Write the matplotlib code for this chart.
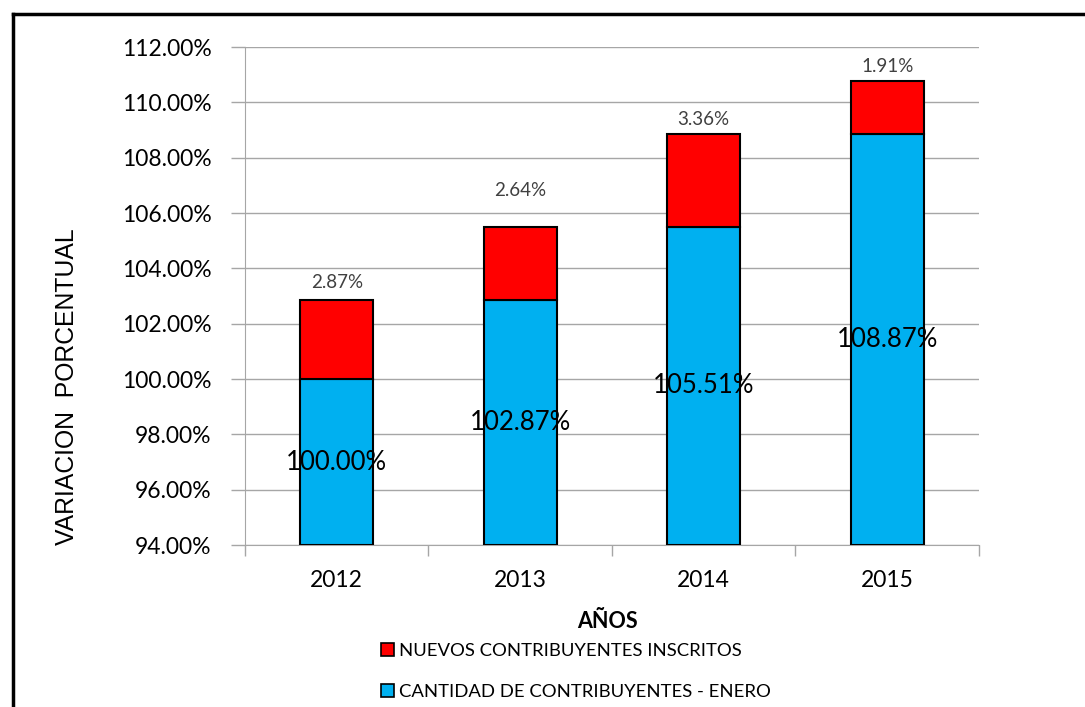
import numpy as np
import matplotlib.pyplot as plt
from matplotlib.patches import Patch
from matplotlib.lines import Line2D
from matplotlib.ticker import FuncFormatter, MultipleLocator, FixedLocator

years = ['2012', '2013', '2014', '2015']
cantidad = [100.00, 102.87, 105.51, 108.87]   # contribuyentes a enero (%)
nuevos = [2.87, 2.64, 3.36, 1.91]             # nuevos inscritos (%)

# separacion de la etiqueta roja sobre la barra (puntos)
offsets = [12, 26, 10, 10]

AZUL = '#00B0F0'
ROJO = '#FF0000'
GRIS = '#A6A6A6'

plt.rcParams['font.family'] = ['Lato', 'DejaVu Sans']

fig = plt.figure(figsize=(10.85, 7.07), dpi=100)
ax = fig.add_axes([0.2258, 0.2291, 0.6765, 0.7044])

x = np.arange(len(years))
base = 94.0
ax.bar(x, np.array(cantidad) - base, bottom=base, width=0.4, color=AZUL,
       edgecolor='black', linewidth=1.5, zorder=3)
tops = np.array(cantidad) + np.array(nuevos)
ax.bar(x, nuevos, bottom=cantidad, width=0.4, color=ROJO,
       edgecolor='black', linewidth=1.5, zorder=3)

for i in range(len(years)):
    ax.text(x[i], (base + cantidad[i]) / 2, f'{cantidad[i]:.2f}%',
            ha='center', va='center', fontsize=18.5, color='black', zorder=4)
    ax.annotate(f'{nuevos[i]:.2f}%', (x[i], tops[i]), xytext=(0, offsets[i]),
                textcoords='offset points', ha='center', va='center',
                fontsize=13.5, color='#404040')

ax.set_xlim(-0.5, len(years) - 0.5)
ax.set_ylim(94, 112)
ax.yaxis.set_major_locator(MultipleLocator(2))
ax.yaxis.set_major_formatter(FuncFormatter(lambda v, p: f'{v:.2f}%'))
ax.grid(axis='y', color=GRIS, linewidth=1, zorder=0)

ax.set_xticks(x)
ax.set_xticklabels(years, fontsize=16.5)
ax.xaxis.set_minor_locator(FixedLocator(np.arange(-0.5, len(years), 1)))
ax.tick_params(axis='x', which='major', length=0, pad=18)
ax.tick_params(axis='x', which='minor', length=8, color=GRIS, width=1)
ax.tick_params(axis='y', length=10, color=GRIS, width=1, labelsize=16.5, pad=14)

for s in ['top', 'right']:
    ax.spines[s].set_visible(False)
ax.spines['left'].set_color(GRIS)
ax.spines['bottom'].set_color(GRIS)

fig.text(0.5603, 0.1205, 'AÑOS', ha='center', va='center', fontsize=15.5, fontweight='bold')
fig.text(0.062, 0.453, 'VARIACION  PORCENTUAL', rotation=90, ha='center', va='center',
         fontsize=17.8, family='Liberation Sans')

handles = [Patch(facecolor=ROJO, edgecolor='black', linewidth=1.2),
           Patch(facecolor=AZUL, edgecolor='black', linewidth=1.2)]
labels = ['NUEVOS CONTRIBUYENTES INSCRITOS', 'CANTIDAD DE CONTRIBUYENTES - ENERO']
fig.legend(handles, labels, loc='upper left', bbox_to_anchor=(0.351, 0.091),
           frameon=False, fontsize=13.3, handlelength=0.7, handleheight=0.7,
           handletextpad=0.3, labelspacing=1.35, borderaxespad=0, borderpad=0)

# marco del grafico
fig.add_artist(Line2D([0.0124, 0.0124], [0.0, 0.9795], color='black', linewidth=2.5,
                      transform=fig.transFigure))
fig.add_artist(Line2D([0.0124, 1.0], [0.9795, 0.9795], color='black', linewidth=2.5,
                      transform=fig.transFigure))

fig.savefig('out.png', dpi=100)
